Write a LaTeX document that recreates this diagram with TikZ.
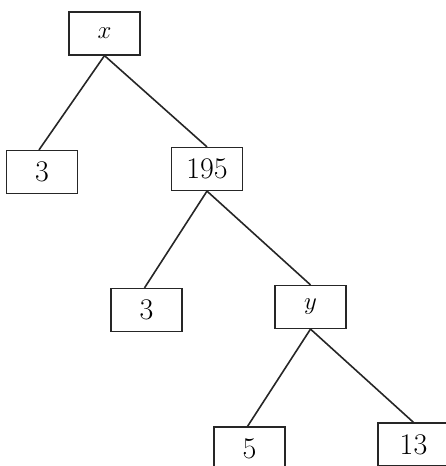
\documentclass[tikz,border=0pt]{standalone}
\begin{document}
\begin{tikzpicture}[x=1pt,y=-1pt,
  fbox/.style={draw=black!85, line width=1.2pt, minimum width=71pt, minimum height=43pt, inner sep=0pt, font=\fontsize{30}{34}\selectfont, fill=white},
  edge/.style={draw=black!85, line width=1.6pt}]
\clip (0,0) rectangle (446,466);
\useasboundingbox (0,0) rectangle (446,466);
\node[fbox] (x) at (104.5,33.5) {$x$};
\node[fbox] (a) at (42,172) {3};
\node[fbox] (b) at (207,169) {195};
\node[fbox] (c) at (146.5,310) {3};
\node[fbox] (y) at (310.5,307) {$y$};
\node[fbox] (d) at (249.5,448.5) {5};
\node[fbox] (e) at (413.5,444.5) {13};
\draw[edge] (x.south) -- ([xshift=-3pt]a.north);
\draw[edge] (x.south) -- (b.north);
\draw[edge] (b.south) -- ([xshift=-2pt]c.north);
\draw[edge] (b.south) -- (y.north);
\draw[edge] (y.south) -- ([xshift=-2pt]d.north);
\draw[edge] (y.south) -- (e.north);
\end{tikzpicture}
\end{document}
